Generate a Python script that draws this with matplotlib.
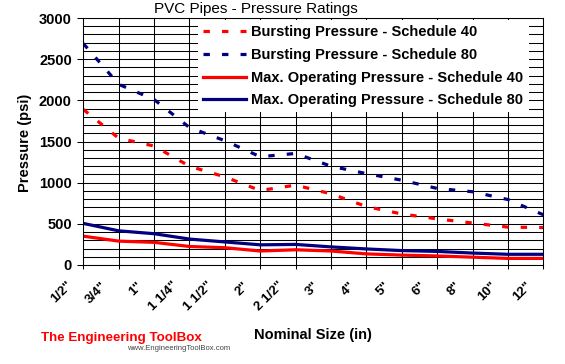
import numpy as np
import matplotlib
matplotlib.use("Agg")
import matplotlib.pyplot as plt
from matplotlib import font_manager
from matplotlib.ticker import MultipleLocator
from matplotlib.transforms import ScaledTranslation

plt.rcParams['font.family'] = ['Liberation Sans', 'DejaVu Sans']

# ---------------- data ----------------
sizes = ['1/2"', '3/4"', '1"', '1 1/4"', '1 1/2"', '2"', '2 1/2"', '3"',
         '4"', '5"', '6"', '8"', '10"', '12"']
burst_s40 = [1890, 1540, 1445, 1200, 1070, 905, 970, 865, 710, 620, 560, 510, 460, 455]
burst_s80 = [2690, 2195, 2010, 1670, 1510, 1315, 1355, 1200, 1110, 1030, 930, 890, 795, 610]
maxop_s40 = [350, 290, 275, 225, 210, 170, 185, 170, 135, 120, 110, 95, 80, 80]
maxop_s80 = [505, 415, 380, 315, 280, 245, 250, 220, 195, 175, 165, 145, 130, 130]
series_labels = ['Bursting Pressure - Schedule 40',
                 'Bursting Pressure - Schedule 80',
                 'Max. Operating Pressure - Schedule 40',
                 'Max. Operating Pressure - Schedule 80']

RED = '#FF0000'
NAVY = '#000080'

W, H = 565, 364
fig = plt.figure(figsize=(W / 100, H / 100), dpi=100)
L, R, T, B = 83.3, 543.3, 18.0, 265.0
ax = fig.add_axes([L / W, 1 - B / H, (R - L) / W, (B - T) / H])

x = np.arange(len(sizes))
dash = (0, (2.0, 3.8))
lw = 2.3
ax.plot(x, burst_s40, color=RED, lw=lw, linestyle=dash, label=series_labels[0])
ax.plot(x, burst_s80, color=NAVY, lw=lw, linestyle=dash, label=series_labels[1])
ax.plot(x, maxop_s40, color=RED, lw=lw, label=series_labels[2])
ax.plot(x, maxop_s80, color=NAVY, lw=lw, label=series_labels[3])

ax.set_xlim(0, len(sizes) - 1)
ax.set_ylim(0, 3000)
ax.set_yticks(np.arange(0, 3001, 500))
ax.yaxis.set_minor_locator(MultipleLocator(100))
ax.set_xticks(x)
ax.set_xticklabels(sizes, rotation=45, ha='right', va='top',
                   fontsize=9.5, fontweight='bold')
for lab in ax.get_yticklabels():
    lab.set_fontweight('bold')
    lab.set_fontsize(10.5)

ax.grid(True, which='both', axis='y', color='black', lw=0.75)
ax.grid(True, which='major', axis='x', color='black', lw=0.75)
ax.tick_params(axis='y', which='major', length=4, width=0.75, pad=4.3, colors='black')
ax.tick_params(axis='y', which='minor', length=0)
ax.tick_params(axis='x', which='major', length=3, width=0.75, pad=7.5)
for sp in ax.spines.values():
    sp.set_color('black')
    sp.set_linewidth(0.75)

offset = ScaledTranslation(-9 / 100, 0, fig.dpi_scale_trans)
for lab in ax.get_xticklabels():
    lab.set_transform(lab.get_transform() + offset)

leg = ax.legend(loc='upper left', bbox_to_anchor=(197.6 / W, 1 - 20 / H),
                bbox_transform=fig.transFigure, borderaxespad=0, borderpad=0.35,
                prop={'size': 10.5, 'weight': 'bold'}, handlelength=3.0,
                handletextpad=0.34, labelspacing=0.6, frameon=True,
                fancybox=False, framealpha=1)
leg.get_frame().set_facecolor('white')
leg.get_frame().set_edgecolor('white')
leg.get_frame().set_linewidth(0)

fig.text(256 / W, 1 - 13.5 / H, 'PVC Pipes - Pressure Ratings', ha='center',
         va='baseline', fontsize=11)
fig.text(25 / W, 1 - 142.5 / H, 'Pressure (psi)', ha='center', va='center',
         rotation=90, fontsize=10.5, fontweight='bold')
fig.text(312.5 / W, 1 - 339.5 / H, 'Nominal Size (in)', ha='center',
         va='baseline', fontsize=10.5, fontweight='bold')

# logo text: prefer a narrow face if one is installed
logo_family, logo_size = ['Liberation Sans', 'DejaVu Sans'], 9.6
try:
    font_manager.findfont(font_manager.FontProperties(family='Liberation Sans Narrow',
                                                      weight='bold'),
                          fallback_to_default=False)
    logo_family, logo_size = ['Liberation Sans Narrow', 'Liberation Sans'], 11.8
except Exception:
    pass
fig.text(40.7 / W, 1 - 341 / H, 'The Engineering ToolBox', ha='left',
         va='baseline', fontsize=logo_size, fontweight='bold', color='#FF0000',
         family=logo_family)
fig.text(178.8 / W, 1 - 349 / H, 'www.EngineeringToolBox.com', ha='center',
         va='center', fontsize=5.5, color='#444444')

fig.savefig('out.png', dpi=100)
